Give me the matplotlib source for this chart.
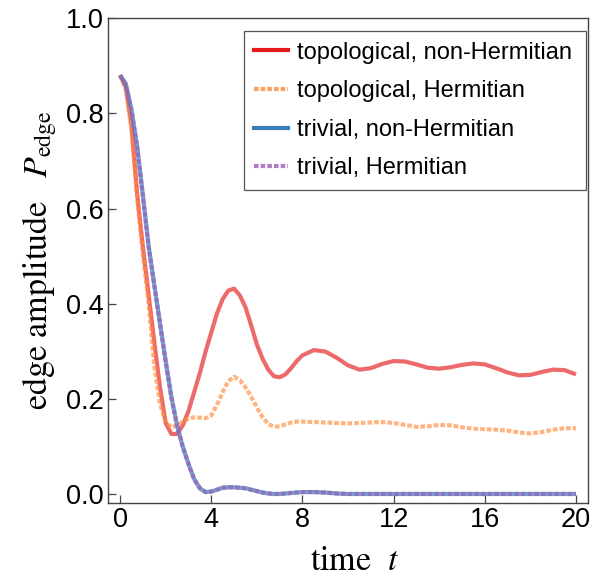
import numpy as np
import matplotlib.pyplot as plt
from matplotlib.lines import Line2D

plt.rcParams['font.family'] = ['Liberation Sans', 'DejaVu Sans']
plt.rcParams['mathtext.fontset'] = 'stix'

# time samples
t = [0, 0.25, 0.5, 0.75, 1.0, 1.25, 1.5, 1.75, 2.0, 2.25, 2.5, 2.75, 3.0, 3.25, 3.5, 3.75,
     4.0, 4.25, 4.5, 4.75, 5.0, 5.25, 5.5, 5.75, 6.0, 6.25, 6.5, 6.75, 7.0, 7.25, 7.5, 7.75,
     8.0, 8.5, 9.0, 9.5, 10.0, 10.5, 11.0, 11.5, 12.0, 12.5, 13.0, 13.5, 14.0, 14.5, 15.0,
     15.5, 16.0, 16.5, 17.0, 17.5, 18.0, 18.5, 19.0, 19.5, 20.0]

topo_nh = [0.88, 0.855, 0.775, 0.63, 0.52, 0.42, 0.32, 0.225, 0.15, 0.127, 0.127, 0.145,
           0.175, 0.215, 0.255, 0.30, 0.34, 0.38, 0.41, 0.428, 0.432, 0.418, 0.393, 0.355,
           0.315, 0.285, 0.262, 0.248, 0.246, 0.252, 0.265, 0.28, 0.292, 0.303, 0.300, 0.287,
           0.271, 0.262, 0.265, 0.274, 0.280, 0.279, 0.273, 0.266, 0.264, 0.267, 0.272, 0.275,
           0.273, 0.265, 0.256, 0.250, 0.251, 0.257, 0.262, 0.261, 0.252]

topo_h = [0.88, 0.85, 0.765, 0.62, 0.505, 0.40, 0.27, 0.19, 0.152, 0.141, 0.145, 0.153,
          0.159, 0.162, 0.161, 0.160, 0.166, 0.188, 0.215, 0.238, 0.247, 0.240, 0.225, 0.205,
          0.183, 0.162, 0.148, 0.142, 0.143, 0.147, 0.151, 0.153, 0.153, 0.152, 0.151, 0.150,
          0.149, 0.150, 0.151, 0.152, 0.150, 0.146, 0.142, 0.143, 0.146, 0.145, 0.141, 0.138,
          0.137, 0.136, 0.134, 0.130, 0.128, 0.131, 0.136, 0.139, 0.139]

triv_nh = [0.88, 0.862, 0.808, 0.73, 0.628, 0.522, 0.44, 0.36, 0.28, 0.205, 0.145, 0.10,
           0.064, 0.032, 0.013, 0.005, 0.006, 0.010, 0.014, 0.015, 0.015, 0.014, 0.013, 0.010,
           0.007, 0.004, 0.002, 0.001, 0.001, 0.002, 0.003, 0.004, 0.005, 0.005, 0.004, 0.002,
           0.001, 0.001, 0.001, 0.001, 0.001, 0.001, 0.001, 0.001, 0.001, 0.001, 0.001, 0.001,
           0.001, 0.001, 0.001, 0.001, 0.001, 0.001, 0.001, 0.001, 0.001]

triv_h = [0.88, 0.86, 0.805, 0.728, 0.625, 0.52, 0.438, 0.358, 0.278, 0.203, 0.144, 0.10,
          0.064, 0.032, 0.013, 0.005, 0.006, 0.010, 0.014, 0.015, 0.015, 0.014, 0.013, 0.010,
          0.007, 0.004, 0.002, 0.001, 0.001, 0.002, 0.003, 0.004, 0.005, 0.005, 0.004, 0.002,
          0.001, 0.001, 0.001, 0.001, 0.001, 0.001, 0.001, 0.001, 0.001, 0.001, 0.001, 0.001,
          0.001, 0.001, 0.001, 0.001, 0.001, 0.001, 0.001, 0.001, 0.001]

labels = ['topological, non-Hermitian', 'topological, Hermitian',
          'trivial, non-Hermitian', 'trivial, Hermitian']
line_colors = ['#E41A1C', '#FF8C3A', '#377EB8', '#9467BD']
legend_colors = ['#E41A1C', '#FFA060', '#377EB8', '#B07CC6']
dotted = (0, (1.1, 0.5))
styles = ['-', dotted, '-', dotted]
alphas = [0.65, 0.65, 0.7, 0.8]

fig = plt.figure(figsize=(6.11, 5.82), dpi=100)
ax = fig.add_axes([0.1768, 0.1357, 0.7856, 0.8333])

series = [topo_nh, topo_h, triv_nh, triv_h]
for y, c, ls, a in zip(series, line_colors, styles, alphas):
    ax.plot(t, y, color=c, ls=ls, lw=3, alpha=a, solid_capstyle='butt',
            dash_capstyle='butt')

handles = [Line2D([], [], color=c, ls=ls, lw=3, dash_capstyle='butt')
           for c, ls in zip(legend_colors, styles)]
leg = ax.legend(handles, labels, loc='upper left', bbox_to_anchor=(0.283, 0.3, 0.7125, 0.673),
                mode='expand', borderaxespad=0, fontsize=17, handlelength=1.4,
                handletextpad=0.4, labelspacing=0.7, borderpad=0.45, fancybox=False,
                framealpha=1)
leg.get_frame().set_edgecolor('#555555')
leg.get_frame().set_linewidth(0.9)

ax.set_xlim(-0.53, 20.53)
ax.set_ylim(-0.018, 1.0)
ax.set_xticks([0, 4, 8, 12, 16, 20])
ax.set_yticks([0.0, 0.2, 0.4, 0.6, 0.8, 1.0])
ax.set_yticklabels(['0.0', '0.2', '0.4', '0.6', '0.8', '1.0'])
ax.tick_params(direction='in', length=6, width=0.9, color='#444444',
               labelsize=19.5, pad=3)
for s in ax.spines.values():
    s.set_color('#444444')
    s.set_linewidth(1.0)

ax.set_xlabel(r'time  $t$', fontsize=24.5, family='STIXGeneral')
ax.set_ylabel(r'edge amplitude  $\;P_{\mathrm{edge}}$', fontsize=24.5, family='STIXGeneral')
ax.xaxis.set_label_coords(0.515, -0.09)
ax.yaxis.set_label_coords(-0.105, 0.5)

fig.savefig('out.png', dpi=100)
